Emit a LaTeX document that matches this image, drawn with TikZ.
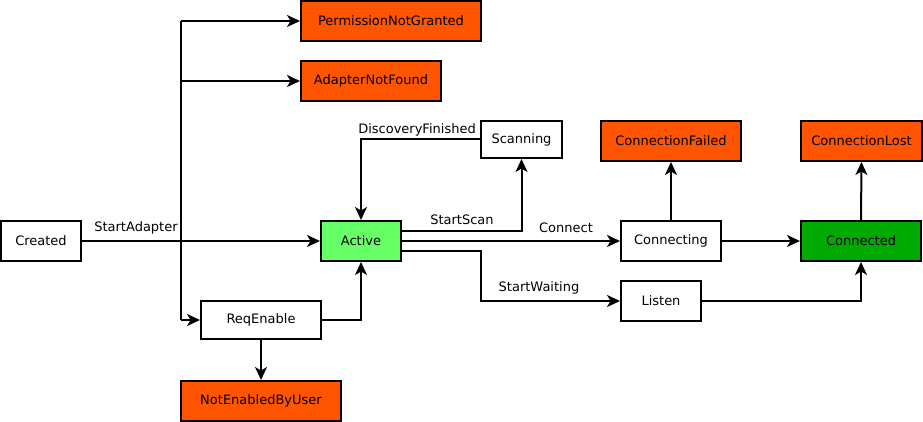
\documentclass[tikz,border=0pt]{standalone}
\usepackage{fontspec}
\setmainfont{DejaVu Sans}
\usetikzlibrary{arrows.meta}
\definecolor{errc}{HTML}{FF5500}
\definecolor{actc}{HTML}{66FF66}
\definecolor{conc}{HTML}{00AA00}
\begin{document}
\begin{tikzpicture}[x=1pt,y=-1pt,
  box/.style={draw=black,line width=2pt,fill=white,inner sep=0pt,font=\fontsize{13}{15}\selectfont},
  err/.style={box,fill=errc},
  edge/.style={line width=2pt,-{Stealth[length=13pt,width=12pt,inset=3.5pt]}},
  lab/.style={font=\fontsize{13}{15}\selectfont,inner sep=1pt}]
\useasboundingbox (0,0) rectangle (923,422);
\node[err,minimum width=180pt,minimum height=40pt] (png) at (391,21) {PermissionNotGranted};
\node[err,minimum width=140pt,minimum height=40pt] (anf) at (371,81) {AdapterNotFound};
\node[box,minimum width=81pt,minimum height=37pt] (scan) at (521.5,139.5) {Scanning};
\node[err,minimum width=140pt,minimum height=40pt] (cf) at (671,141) {ConnectionFailed};
\node[err,minimum width=121pt,minimum height=40pt] (cl) at (861.5,141) {ConnectionLost};
\node[box,minimum width=80pt,minimum height=40pt] (created) at (41,241) {Created};
\node[box,fill=actc,minimum width=80pt,minimum height=40pt] (active) at (361,241) {Active};
\node[box,minimum width=100pt,minimum height=40pt] (cing) at (671,241) {Connecting};
\node[box,fill=conc,minimum width=120pt,minimum height=40pt] (ced) at (861,241) {Connected};
\node[box,minimum width=120pt,minimum height=38pt] (req) at (261,320) {ReqEnable};
\node[box,minimum width=80pt,minimum height=40pt] (listen) at (661,301) {Listen};
\node[err,minimum width=160pt,minimum height=40pt] (neu) at (261,401) {NotEnabledByUser};
% Created branches
\draw[edge] (created.east) -- (active.west);
\node[lab] at (136,228) {StartAdapter};
\draw[line width=2pt] (181,21) -- (181,320);
\draw[edge] (181,21) -- (png.west);
\draw[edge] (181,81) -- (anf.west);
\draw[edge] (181,320) -- (req.west);
% ReqEnable
\draw[edge] (req.east) -| (active.south);
\draw[edge] (req.south) -- (neu.north);
% Active
\draw[edge] (active.east |- 0,231) -| (scan.south);
\node[lab] at (462,220) {StartScan};
\draw[edge] (scan.west) -| (active.north);
\node[lab] at (417,130) {DiscoveryFinished};
\draw[edge] (active.east) -- (cing.west);
\node[lab] at (566,228) {Connect};
\draw[edge] (active.east |- 0,251) -| (481,301) -- (listen.west);
\node[lab] at (539,288) {StartWaiting};
% right part
\draw[edge] (cing.east) -- (ced.west);
\draw[edge] (cing.north) -- (cf.south);
\draw[edge] (ced.north) -- (cl.south);
\draw[edge] (listen.east) -| (ced.south);
\end{tikzpicture}
\end{document}
